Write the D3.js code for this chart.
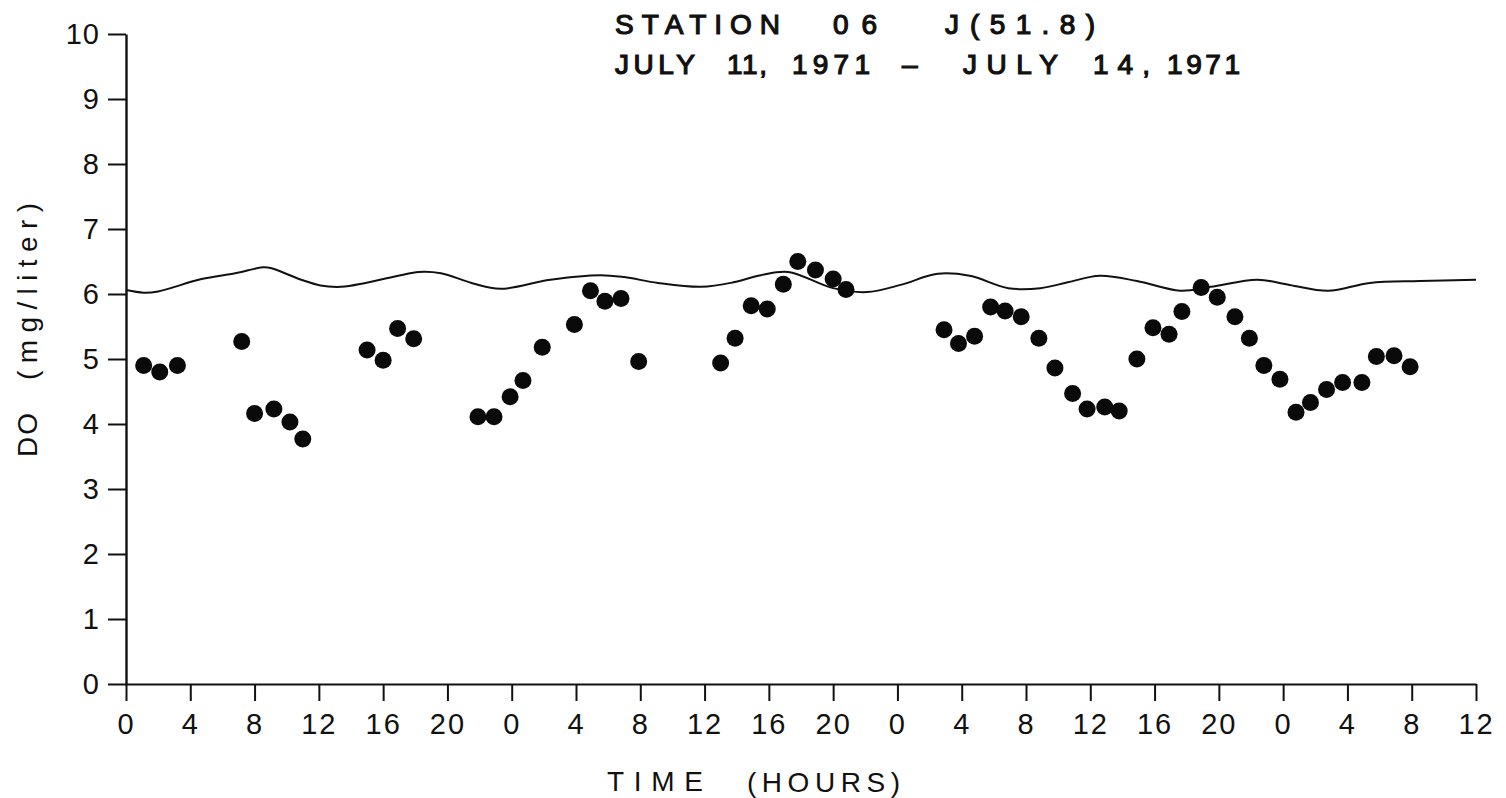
<!DOCTYPE html>
<html>
<head>
<meta charset="utf-8">
<script src="https://cdn.jsdelivr.net/npm/d3@7/dist/d3.min.js"></script>
<style>
  html, body { margin: 0; padding: 0; background: #fff; }
  svg { display: block; }
  text { font-family: "Liberation Sans", Arial, sans-serif; fill: #111; }
</style>
</head>
<body>
<svg id="chart" width="1506" height="798"></svg>
<script>
// Elapsed time (hours from midnight, July 11) of each dissolved-oxygen sample
const sampleHours = [
  1.1, 2.1, 3.2, 7.2, 8.0, 9.2, 10.2, 11.0,
  15.0, 16.0, 16.9, 17.9,
  21.9, 22.9, 23.9, 24.7, 25.9, 27.9, 28.9, 29.8, 30.8, 31.9,
  37.0, 37.9, 38.9, 39.9, 40.9, 41.8, 42.9, 44.0, 44.8,
  50.9, 51.8, 52.8, 53.8, 54.7, 55.7, 56.8, 57.8, 58.9, 59.8, 60.9, 61.8,
  62.9, 63.9, 64.9, 65.7, 66.9, 67.9, 69.0, 69.9, 70.8, 71.8, 72.8, 73.7,
  74.7, 75.7, 76.9, 77.8, 78.9, 79.9
];
// Measured DO (mg/liter)
const sampleDO = [
  4.90, 4.80, 4.90, 5.27, 4.16, 4.23, 4.03, 3.77,
  5.14, 4.98, 5.47, 5.31,
  4.11, 4.11, 4.42, 4.67, 5.18, 5.53, 6.05, 5.89, 5.93, 4.96,
  4.94, 5.32, 5.82, 5.77, 6.15, 6.50, 6.37, 6.23, 6.07,
  5.45, 5.24, 5.35, 5.80, 5.74, 5.65, 5.32, 4.86, 4.47, 4.23, 4.26, 4.20,
  5.00, 5.48, 5.38, 5.73, 6.10, 5.95, 5.65, 5.32, 4.90, 4.69, 4.18, 4.33,
  4.53, 4.64, 4.64, 5.04, 5.05, 4.88
];

// Saturation DO curve (hours, mg/liter)
const satHours = [
  0, 1.1, 2.0, 4.7, 6.8, 8.5, 9.0, 10.9, 12.1, 13.4, 14.9, 17.1, 18.2, 19.6,
  21.5, 23.3, 26.4, 29.5, 31.0, 33.1, 35.8, 37.8, 39.5, 41.2, 44.0, 46.1,
  48.2, 50.5, 52.5, 54.9, 56.9, 58.6, 60.6, 62.9, 65.6, 67.5, 70.4, 72.4,
  74.8, 77.4, 80.5, 84.0
];
const satDO = [
  6.06, 6.02, 6.04, 6.23, 6.32, 6.41, 6.40, 6.22, 6.13, 6.11, 6.17, 6.29, 6.34, 6.32,
  6.17, 6.08, 6.22, 6.29, 6.26, 6.17, 6.11, 6.18, 6.29, 6.34, 6.09, 6.03,
  6.14, 6.31, 6.28, 6.09, 6.09, 6.18, 6.28, 6.20, 6.05, 6.11, 6.22, 6.14,
  6.05, 6.17, 6.20, 6.22
];

// Axis ticks
const xTickHours = d3.range(0, 85, 4);
const yTicks = [0, 1, 2, 3, 4, 5, 6, 7, 8, 9, 10];

const svg = d3.select("#chart");
const labelFont = "Lato, 'Liberation Sans', sans-serif";

const x = d3.scaleLinear().domain([0, 84]).range([126, 1476]);
const y = d3.scaleLinear().domain([0, 10]).range([684, 34]);

// Y axis
const yAxis = svg.append("g")
  .attr("transform", "translate(126,0)")
  .call(d3.axisLeft(y).tickValues(yTicks).tickSize(18).tickSizeOuter(0).tickPadding(8));
yAxis.select(".domain").attr("stroke", "#111").attr("stroke-width", 2.4);
yAxis.selectAll(".tick line").attr("stroke", "#111").attr("stroke-width", 2);
yAxis.selectAll(".tick text")
  .attr("font-size", 29).attr("fill", "#111")
  .attr("font-weight", 300)
  .attr("letter-spacing", 1)
  .attr("font-family", labelFont);

// X axis (hour-of-day labels)
const xAxis = svg.append("g")
  .attr("transform", "translate(0,684)")
  .call(d3.axisBottom(x).tickValues(xTickHours).tickFormat(d => d % 24)
    .tickSize(17).tickSizeOuter(0).tickPadding(12));
xAxis.select(".domain").attr("stroke", "#111").attr("stroke-width", 2.2);
xAxis.selectAll(".tick line").attr("stroke", "#111").attr("stroke-width", 2);
xAxis.selectAll(".tick text")
  .attr("font-size", 29).attr("fill", "#111")
  .attr("font-weight", 300)
  .attr("letter-spacing", 2)
  .attr("font-family", labelFont);

// Saturation curve
const line = d3.line()
  .x((d, i) => x(satHours[i]))
  .y(d => y(d))
  .curve(d3.curveCatmullRom.alpha(0.5));
svg.append("path")
  .attr("d", line(satDO))
  .attr("fill", "none")
  .attr("stroke", "#111")
  .attr("stroke-width", 2);

// Observations
svg.append("g").selectAll("circle")
  .data(sampleDO)
  .join("circle")
  .attr("cx", (d, i) => x(sampleHours[i]))
  .attr("cy", d => y(d))
  .attr("r", 8.5)
  .attr("fill", "#0a0a0a");

// Spaced lettering helper: spreads the letters of a word over [x0, x1]
function word(str, x0, x1, yb, opts, g) {
  const t = (g || svg).append("text")
    .attr("x", x0).attr("y", yb)
    .attr("font-size", opts.size)
    .attr("font-weight", opts.weight || "normal")
    .attr("font-family", opts.family || labelFont)
    .attr("textLength", x1 - x0)
    .attr("lengthAdjust", "spacing")
    .text(str);
  if (opts.stroke) t.attr("stroke", "#111").attr("stroke-width", opts.stroke);
  return t;
}

// Title
const tOpts = { size: 28, weight: "normal", family: "'Liberation Sans', Arial, sans-serif", stroke: 1.2 };
word("STATION", 615, 780, 34, tOpts);
word("06", 833, 877, 34, tOpts);
word("J", 945, 958, 34, tOpts);
word("(51.8)", 970, 1095, 34, tOpts);
word("JULY", 615, 695, 74, tOpts);
word("11,", 727, 767, 74, tOpts);
word("1971", 792, 870, 74, tOpts);
word("–", 902, 934, 74, tOpts);
word("JULY", 963, 1058, 74, tOpts);
word("14,", 1093, 1150, 74, tOpts);
word("1971", 1167, 1240, 74, tOpts);

// Axis titles
const aOpts = { size: 28, weight: 300 };
word("TIME", 607, 703, 791, aOpts);
word("(HOURS)", 747, 900, 792, aOpts);

const yt = svg.append("g").attr("transform", "translate(37,0) rotate(-90)");
word("DO", -457, -413, 0, aOpts, yt);
word("(mg/liter)", -380, -203, 0, aOpts, yt);
</script>
</body>
</html>
